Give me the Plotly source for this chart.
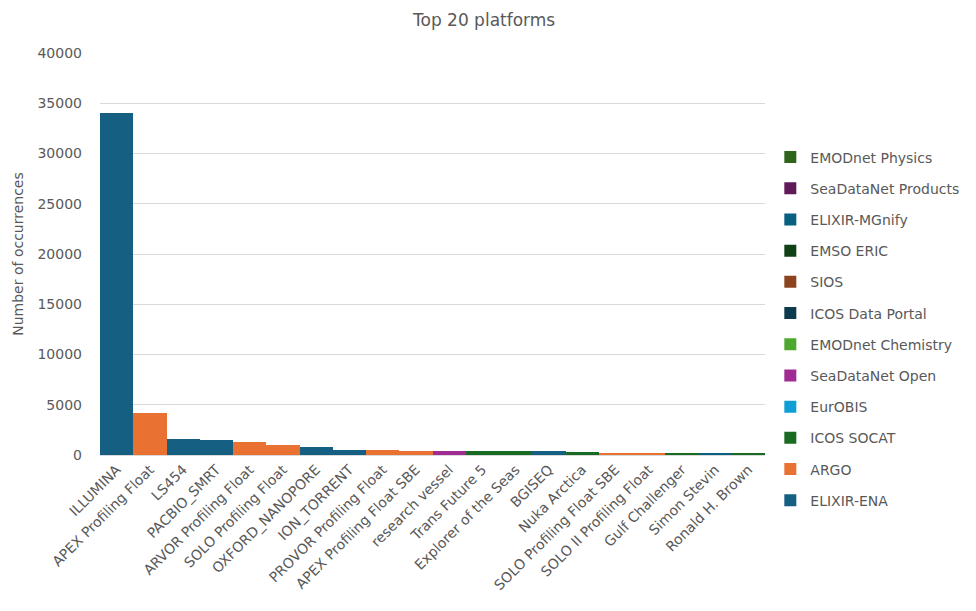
import plotly.graph_objects as go

categories = ["ILLUMINA", "APEX Profiling Float", "LS454", "PACBIO_SMRT",
              "ARVOR Profiling Float", "SOLO Profiling Float", "OXFORD_NANOPORE",
              "ION_TORRENT", "PROVOR Profiling Float", "APEX Profiling Float SBE",
              "research vessel", "Trans Future 5", "Explorer of the Seas", "BGISEQ",
              "Nuka Arctica", "SOLO Profiling Float SBE", "SOLO II Profiling Float",
              "Gulf Challenger", "Simon Stevin", "Ronald H. Brown"]

# parallel arrays: platform, source, value
rec_platform = ["ILLUMINA", "APEX Profiling Float", "LS454", "PACBIO_SMRT",
                "ARVOR Profiling Float", "SOLO Profiling Float", "OXFORD_NANOPORE",
                "ION_TORRENT", "PROVOR Profiling Float", "APEX Profiling Float SBE",
                "research vessel", "Trans Future 5", "Explorer of the Seas", "BGISEQ",
                "Nuka Arctica", "SOLO Profiling Float SBE", "SOLO II Profiling Float",
                "Gulf Challenger", "Simon Stevin", "Simon Stevin", "Ronald H. Brown"]
rec_source = ["ELIXIR-ENA", "ARGO", "ELIXIR-ENA", "ELIXIR-ENA",
              "ARGO", "ARGO", "ELIXIR-ENA",
              "ELIXIR-ENA", "ARGO", "ARGO",
              "SeaDataNet Open", "ICOS SOCAT", "ICOS SOCAT", "ELIXIR-ENA",
              "ICOS SOCAT", "ARGO", "ARGO",
              "ICOS SOCAT", "ICOS SOCAT", "ELIXIR-MGnify", "ICOS SOCAT"]
rec_value = [34000, 4150, 1560, 1510,
             1250, 1000, 820,
             460, 450, 440,
             430, 370, 360, 350,
             330, 230, 210,
             170, 90, 60, 130]

sources = ["ELIXIR-ENA", "ARGO", "ICOS SOCAT", "EurOBIS", "SeaDataNet Open",
           "EMODnet Chemistry", "ICOS Data Portal", "SIOS", "EMSO ERIC",
           "ELIXIR-MGnify", "SeaDataNet Products", "EMODnet Physics"]
colors = ["#156082", "#E97132", "#196B24", "#0F9ED5", "#A02B93",
          "#4EA72E", "#0D3A4E", "#8C441E", "#0F4016",
          "#095F80", "#601A58", "#2F641C"]

FONT = "DejaVu Sans, Verdana, sans-serif"
GREY = "#595959"

fig = go.Figure()
for i, (src, col) in enumerate(zip(sources, colors)):
    ys = []
    for c in categories:
        v = None
        for p, s, val in zip(rec_platform, rec_source, rec_value):
            if p == c and s == src:
                v = val
        ys.append(v)
    fig.add_trace(go.Bar(
        x=categories, y=ys, name=src, legendgroup=src, legendrank=1000 - i,
        marker=dict(color=col, line=dict(width=0)),
    ))

fig.update_layout(
    width=976, height=611,
    barmode="stack", bargap=0,
    plot_bgcolor="white", paper_bgcolor="white",
    margin=dict(l=100, r=211, t=53, b=156),
    font=dict(family=FONT, size=14, color=GREY),
    title=dict(text="Top 20 platforms", x=0.496, xref="container", xanchor="center",
               y=0.968, yanchor="middle",
               font=dict(family=FONT, size=17, color=GREY)),
    legend=dict(x=1.008, y=0.78, xanchor="left", yanchor="top",
                traceorder="grouped", tracegroupgap=10,
                font=dict(family=FONT, size=14, color=GREY)),
    xaxis=dict(tickangle=-45, showline=True, linecolor="#d9d9d9", ticks="",
               tickfont=dict(family=FONT, size=14, color=GREY)),
    yaxis=dict(range=[0, 40000], dtick=5000, gridcolor="#d9d9d9", showline=False,
               zeroline=False, tickformat="d", ticklabelstandoff=17,
               title=dict(text="Number of occurrences", font=dict(family=FONT, size=14, color=GREY), standoff=10),
               tickfont=dict(family=FONT, size=14, color=GREY)),
)

fig.write_html("out.html")
